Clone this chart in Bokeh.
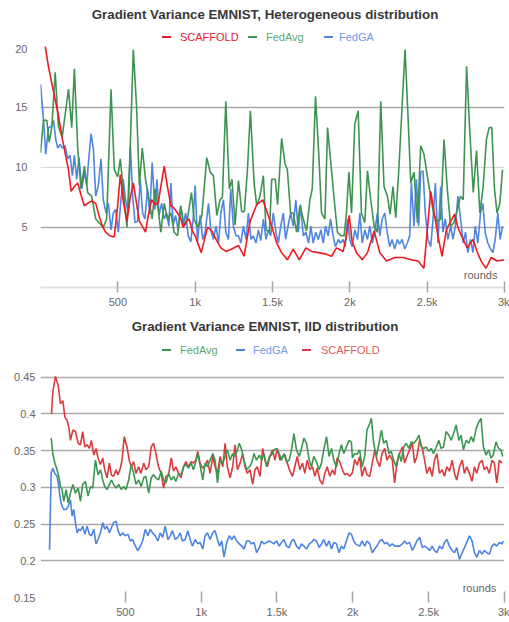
from bokeh.plotting import figure
from bokeh.models import Div, Label, FixedTicker, Grid, Range1d
from bokeh.layouts import column
from bokeh.embed import file_html
from bokeh.resources import INLINE

FONT = "Liberation Sans"

# ---------------- data ----------------
x_ticks = [500, 1000, 1500, 2000, 2500, 3000]
x_tick_labels = ["500", "1k", "1.5k", "2k", "2.5k", "3k"]
het_y_ticks = [5, 10, 15, 20]
iid_y_ticks = [0.15, 0.2, 0.25, 0.3, 0.35, 0.4, 0.45]
iid_y_labels = ["0.15", "0.2", "0.25", "0.3", "0.35", "0.4", "0.45"]

het_title = "Gradient Variance EMNIST, Heterogeneous distribution"
iid_title = "Gradient Variance EMNIST, IID distribution"
het_legend = ["SCAFFOLD", "FedAvg", "FedGA"]
iid_legend = ["FedAvg", "FedGA", "SCAFFOLD"]

het_fedavg_rounds = [0, 19, 41, 56, 73, 95, 116, 140, 181, 202, 219, 241, 262, 284, 305, 331, 357, 385, 406, 428,
                     456, 477, 499, 516, 537, 559, 581, 600, 621, 639, 658, 679, 701, 722, 740, 761, 778, 800, 821, 843,
                     864, 886, 907, 929, 950, 976, 993, 1015, 1043, 1075, 1097, 1118, 1140, 1161, 1176, 1198, 1221, 1238,
                     1258, 1280, 1301, 1318, 1338, 1357, 1381, 1398, 1419, 1441, 1458, 1480, 1495, 1518, 1533, 1559,
                     1581, 1596, 1617, 1634, 1656, 1677, 1699, 1720, 1742, 1757, 1778, 1800, 1817, 1839, 1856, 1877,
                     1899, 1920, 1942, 1963, 1978, 1994, 2011, 2032, 2054, 2075, 2097, 2114, 2135, 2157, 2178, 2200,
                     2221, 2243, 2260, 2279, 2297, 2318, 2338, 2357, 2376, 2394, 2415, 2437, 2458, 2479, 2501, 2523,
                     2544, 2565, 2587, 2609, 2630, 2652, 2673, 2695, 2716, 2733, 2755, 2776, 2798, 2819, 2841, 2862,
                     2883, 2901, 2918, 2935, 2952, 2970, 2987]
het_fedavg_values = [11.2, 13.9, 13.9, 12.1, 13.3, 17.9, 13.4, 12.5, 16.5, 13.3, 18.2, 11.5, 8.2, 10.1, 7.9, 7.6, 5.7, 5.3, 5.0, 5.7,
                     16.5, 9.8, 9.2, 10.7, 7.9, 5.0, 12.0, 19.8, 15.1, 8.5, 11.6, 9.0, 7.3, 5.7, 8.2, 6.5, 4.6, 7.0, 5.7, 6.2,
                     4.6, 4.3, 6.8, 5.1, 5.7, 7.9, 5.7, 5.0, 6.0, 10.8, 9.6, 9.3, 6.0, 7.3, 7.5, 15.5, 8.2, 9.0,
                     5.2, 8.9, 6.3, 6.3, 9.8, 14.7, 8.7, 6.8, 7.6, 9.3, 4.8, 4.6, 9.0, 9.0, 6.9, 12.4,
                     10.3, 9.8, 6.2, 6.2, 4.6, 6.8, 5.7, 4.7, 7.3, 8.2, 15.9, 10.9, 6.2, 5.7, 13.3, 10.4,
                     7.3, 4.6, 4.3, 4.3, 6.2, 9.6, 6.2, 13.6, 14.7, 6.2, 5.4, 9.7, 7.3, 5.1, 4.6, 15.5,
                     8.4, 7.6, 6.1, 8.4, 5.8, 10.1, 15.1, 19.8, 14.3, 8.7, 9.6, 5.4, 11.8, 11.1, 9.3, 7.5,
                     6.0, 5.5, 5.7, 12.3, 8.2, 5.1, 5.4, 6.5, 7.6, 7.3, 18.4, 12.9, 7.9, 11.4, 6.2, 8.4,
                     12.3, 13.3, 13.3, 8.2, 6.2, 7.0, 9.8]

het_fedga_rounds = [0, 19, 34, 51, 69, 84, 99, 112, 127, 142, 159, 176, 191, 206, 219, 234, 249, 267, 284, 299,
                    310, 327, 342, 357, 374, 391, 406, 424, 439, 456, 471, 486, 503, 520, 535, 550, 568, 581, 596, 611,
                    628, 645, 660, 675, 692, 707, 722, 740, 753, 766, 783, 800, 815, 830, 843, 858, 873, 890, 907, 923,
                    938, 955, 972, 987, 1000, 1015, 1032, 1049, 1065, 1086, 1101, 1118, 1135, 1151, 1166, 1183, 1198,
                    1215, 1230, 1247, 1264, 1280, 1295, 1312, 1329, 1344, 1361, 1376, 1393, 1409, 1424, 1441, 1458,
                    1473, 1488, 1505, 1522, 1538, 1553, 1570, 1585, 1602, 1617, 1634, 1651, 1667, 1681, 1699, 1716,
                    1733, 1748, 1763, 1780, 1796, 1813, 1828, 1843, 1860, 1875, 1892, 1907, 1925, 1940, 1957, 1970,
                    1985, 2000, 2015, 2032, 2050, 2065, 2080, 2097, 2114, 2129, 2146, 2161, 2178, 2194, 2209, 2226,
                    2241, 2258, 2273, 2290, 2307, 2322, 2338, 2355, 2372, 2387, 2398, 2415, 2430, 2445, 2458, 2473,
                    2488, 2505, 2523, 2538, 2553, 2570, 2587, 2602, 2617, 2634, 2652, 2667, 2682, 2699, 2716, 2733,
                    2748, 2763, 2780, 2796, 2811, 2828, 2845, 2860, 2875, 2892, 2910, 2925, 2940, 2957, 2972, 2987]
het_fedga_values = [16.9, 14.0, 11.1, 13.3, 13.4, 13.9, 12.3, 11.6, 11.9, 11.6, 11.8, 10.7, 11.0, 9.3, 11.0, 9.0, 10.8, 8.2, 9.6, 8.5,
                    10.4, 12.8, 11.5, 7.6, 8.5, 10.7, 7.3, 6.2, 7.0, 4.8, 6.2, 6.5, 4.6, 7.3, 9.0, 7.3, 6.2, 11.8, 7.6, 5.4,
                    5.5, 9.0, 6.2, 5.7, 8.2, 6.1, 10.4, 6.5, 9.0, 6.0, 7.0, 5.7, 6.2, 5.1, 8.7, 5.2, 6.0, 4.8, 6.8, 5.1,
                    6.2, 4.3, 3.8, 5.7, 8.5, 3.8, 6.0, 4.0, 4.6, 7.0, 4.8, 4.0, 5.1, 3.7, 6.2, 7.3, 4.6,
                    4.0, 8.2, 5.1, 4.3, 4.3, 3.7, 5.1, 4.0, 6.2, 4.0, 4.3, 3.7, 4.8, 3.9, 5.7, 4.0,
                    4.8, 4.3, 6.2, 4.6, 3.7, 5.1, 6.2, 4.0, 5.2, 6.2, 5.1, 7.3, 4.6, 6.9, 4.3, 4.6,
                    3.7, 5.1, 3.7, 4.6, 4.0, 4.8, 3.7, 5.1, 4.3, 5.7, 4.3, 3.4, 4.0, 3.7, 4.0, 3.4,
                    5.7, 4.0, 3.4, 4.8, 4.0, 6.2, 3.7, 4.8, 4.0, 5.1, 3.7, 4.6, 6.2, 4.3, 5.7, 6.2,
                    4.6, 3.4, 4.0, 3.2, 4.0, 3.6, 4.0, 3.2, 3.7, 4.3, 8.7, 5.1, 9.0, 5.1, 9.6, 9.7,
                    6.2, 4.0, 3.4, 5.7, 8.7, 3.7, 8.4, 4.6, 5.7, 4.0, 5.1, 4.0, 5.1, 7.6, 5.7, 3.7,
                    4.6, 2.9, 4.0, 2.9, 5.1, 3.7, 6.2, 7.0, 4.6, 3.7, 3.2, 2.9, 4.0, 6.2, 4.0, 5.1]

het_scaffold_rounds = [0, 34, 51, 73, 95, 116, 138, 159, 181, 198, 219, 241, 262, 284, 305, 331, 357, 378, 400, 421,
                       449, 477, 499, 516, 537, 559, 578, 600, 621, 639, 658, 679, 697, 718, 740, 761, 778, 800, 821,
                       843, 864, 886, 907, 922, 944, 961, 982, 1000, 1039, 1080, 1108, 1135, 1166, 1200, 1237, 1280,
                       1316, 1355, 1398, 1437, 1467, 1495, 1527, 1559, 1596, 1634, 1673, 1716, 1753, 1796, 1839, 1882,
                       1914, 1957, 1978, 1996, 2015, 2043, 2080, 2114, 2157, 2194, 2237, 2290, 2344, 2398, 2441, 2479,
                       2501, 2523, 2548, 2574, 2596, 2624, 2652, 2677, 2699, 2725, 2759, 2796, 2828, 2853, 2881, 2914,
                       2952, 2996]
het_scaffold_values = [23.0, 19.8, 18.4, 17.0, 15.6, 14.3, 12.6, 11.2, 9.8, 8.0, 8.4, 8.7, 7.7, 6.8, 7.0, 7.2, 7.0, 6.0, 5.1, 4.6,
                       4.3, 4.2, 6.8, 9.4, 7.0, 5.5, 7.3, 8.7, 7.0, 5.5, 5.1, 4.6, 6.0, 7.3, 6.9, 7.0, 8.4, 10.1, 8.4,
                       6.8, 6.6, 6.2, 5.7, 5.0, 5.5, 5.7, 4.7, 4.3, 2.9, 5.0, 4.7, 4.0, 3.3, 3.0, 3.2, 3.5,
                       2.6, 5.5, 6.9, 7.3, 6.2, 5.1, 3.7, 2.9, 2.3, 3.2, 2.3, 3.3, 3.0, 2.9, 2.8, 2.6,
                       3.3, 3.0, 4.3, 6.0, 3.8, 2.9, 2.3, 2.9, 4.7, 2.9, 2.2, 2.5, 2.5, 2.3, 2.2, 1.6,
                       4.8, 8.0, 6.0, 4.0, 2.6, 4.8, 5.5, 6.1, 5.0, 4.2, 3.3, 4.0, 2.8, 2.1, 1.6, 2.5,
                       2.2, 2.3]

iid_fedavg_rounds = [11, 22, 35, 50, 61, 72, 83, 94, 110, 123, 138, 154, 171, 189, 204, 219, 237, 254, 270, 285,
                     303, 320, 336, 351, 364, 379, 395, 408, 423, 439, 456, 474, 489, 504, 522, 539, 555, 570, 588, 605,
                     621, 636, 654, 671, 686, 702, 719, 737, 752, 768, 785, 803, 818, 833, 851, 868, 884, 899, 917, 934,
                     949, 965, 978, 993, 1011, 1026, 1042, 1059, 1077, 1092, 1108, 1125, 1143, 1158, 1173, 1191, 1208,
                     1224, 1239, 1252, 1268, 1283, 1300, 1318, 1333, 1349, 1366, 1384, 1399, 1415, 1432, 1450, 1465,
                     1480, 1498, 1515, 1530, 1546, 1563, 1581, 1596, 1612, 1629, 1647, 1662, 1678, 1695, 1713, 1728,
                     1743, 1761, 1778, 1794, 1809, 1827, 1844, 1860, 1875, 1893, 1910, 1925, 1941, 1958, 1976, 1991,
                     1998, 2013, 2029, 2046, 2061, 2079, 2094, 2112, 2123, 2138, 2156, 2173, 2189, 2204, 2222, 2239,
                     2254, 2270, 2287, 2305, 2320, 2336, 2353, 2371, 2386, 2402, 2419, 2437, 2452, 2467, 2485, 2502,
                     2518, 2533, 2551, 2568, 2583, 2599, 2616, 2634, 2649, 2665, 2682, 2700, 2715, 2730, 2748, 2765,
                     2781, 2796, 2814, 2831, 2846, 2862, 2879, 2897, 2912, 2927, 2945, 2962, 2978, 2989]
iid_fedavg_values = [0.367, 0.346, 0.333, 0.324, 0.315, 0.301, 0.297, 0.281, 0.297, 0.279, 0.292, 0.304, 0.292, 0.299, 0.281, 0.304, 0.308, 0.288, 0.301, 0.299,
                     0.337, 0.317, 0.324, 0.310, 0.301, 0.297, 0.304, 0.310, 0.304, 0.299, 0.304, 0.297, 0.301, 0.297, 0.310, 0.331, 0.319, 0.304, 0.310, 0.301,
                     0.313, 0.315, 0.292, 0.313, 0.317, 0.313, 0.310, 0.322, 0.310, 0.306, 0.319, 0.310, 0.315, 0.308, 0.319, 0.317, 0.328, 0.331, 0.326, 0.333,
                     0.324, 0.335, 0.346, 0.330, 0.310, 0.333, 0.328, 0.337, 0.346, 0.337, 0.306, 0.337, 0.333, 0.342, 0.351, 0.337, 0.346,
                     0.342, 0.351, 0.360, 0.351, 0.337, 0.324, 0.328, 0.333, 0.346, 0.337, 0.344, 0.337, 0.346, 0.328, 0.342, 0.344,
                     0.351, 0.353, 0.346, 0.337, 0.346, 0.335, 0.337, 0.351, 0.373, 0.351, 0.342, 0.353, 0.367, 0.360, 0.337, 0.328,
                     0.342, 0.335, 0.324, 0.333, 0.351, 0.369, 0.342, 0.353, 0.337, 0.328, 0.346, 0.358, 0.346, 0.355, 0.364, 0.362,
                     0.340, 0.346, 0.345, 0.351, 0.328, 0.342, 0.378, 0.387, 0.394, 0.360, 0.342, 0.360, 0.378, 0.360, 0.364, 0.346,
                     0.349, 0.337, 0.328, 0.346, 0.335, 0.355, 0.360, 0.353, 0.362, 0.360, 0.364, 0.371, 0.355, 0.353, 0.355, 0.349,
                     0.353, 0.346, 0.355, 0.364, 0.353, 0.355, 0.376, 0.371, 0.364, 0.373, 0.385, 0.364, 0.371, 0.351, 0.364, 0.360,
                     0.369, 0.362, 0.380, 0.389, 0.394, 0.355, 0.344, 0.351, 0.340, 0.344, 0.362, 0.353, 0.351, 0.342]

iid_scaffold_rounds = [13, 22, 39, 57, 72, 88, 101, 116, 127, 138, 154, 171, 189, 204, 219, 233, 248, 263, 276, 292,
                       307, 320, 336, 351, 364, 379, 395, 408, 423, 439, 452, 467, 478, 493, 511, 526, 539, 555, 570, 588,
                       603, 621, 636, 654, 671, 686, 702, 719, 737, 752, 768, 785, 803, 818, 833, 851, 868, 884, 899, 917,
                       934, 949, 965, 978, 993, 1009, 1026, 1042, 1059, 1077, 1092, 1108, 1125, 1143, 1158, 1173, 1191,
                       1208, 1224, 1239, 1257, 1274, 1289, 1305, 1322, 1340, 1355, 1370, 1388, 1406, 1421, 1436, 1454,
                       1471, 1487, 1502, 1520, 1537, 1553, 1568, 1586, 1603, 1618, 1634, 1651, 1669, 1684, 1700, 1717,
                       1735, 1750, 1765, 1783, 1800, 1816, 1831, 1849, 1866, 1881, 1897, 1914, 1932, 1947, 1962, 1980,
                       1998, 2013, 2029, 2046, 2061, 2079, 2094, 2112, 2129, 2145, 2160, 2178, 2193, 2211, 2226, 2243,
                       2261, 2276, 2292, 2309, 2327, 2342, 2357, 2375, 2393, 2408, 2423, 2441, 2459, 2474, 2489, 2507,
                       2524, 2539, 2555, 2572, 2590, 2605, 2621, 2638, 2656, 2671, 2686, 2704, 2722, 2737, 2752, 2770,
                       2787, 2803, 2818, 2836, 2853, 2868, 2884, 2901, 2919, 2934, 2950, 2967, 2985]
iid_scaffold_values = [0.400, 0.430, 0.451, 0.439, 0.414, 0.418, 0.396, 0.391, 0.382, 0.364, 0.378, 0.376, 0.360, 0.358, 0.376, 0.355, 0.358, 0.353, 0.364, 0.344,
                       0.353, 0.340, 0.331, 0.340, 0.324, 0.313, 0.333, 0.317, 0.315, 0.324, 0.317, 0.326, 0.337, 0.369, 0.355, 0.337, 0.328, 0.335, 0.319, 0.328,
                       0.319, 0.333, 0.324, 0.328, 0.355, 0.360, 0.346, 0.328, 0.319, 0.299, 0.315, 0.317, 0.340, 0.322, 0.328, 0.319, 0.313, 0.328, 0.335, 0.328,
                       0.335, 0.333, 0.337, 0.349, 0.333, 0.326, 0.330, 0.337, 0.319, 0.342, 0.328, 0.319, 0.342, 0.328, 0.360, 0.328, 0.313,
                       0.328, 0.358, 0.324, 0.333, 0.346, 0.328, 0.319, 0.324, 0.304, 0.324, 0.328, 0.315, 0.353, 0.337, 0.328, 0.342,
                       0.351, 0.337, 0.353, 0.337, 0.342, 0.344, 0.333, 0.322, 0.315, 0.328, 0.342, 0.324, 0.333, 0.319, 0.337, 0.324,
                       0.328, 0.315, 0.326, 0.310, 0.304, 0.319, 0.328, 0.315, 0.324, 0.317, 0.340, 0.335, 0.324, 0.317, 0.319, 0.315,
                       0.320, 0.338, 0.330, 0.342, 0.315, 0.328, 0.317, 0.315, 0.333, 0.351, 0.337, 0.328, 0.346, 0.353, 0.337, 0.344,
                       0.337, 0.306, 0.333, 0.346, 0.355, 0.333, 0.342, 0.351, 0.360, 0.333, 0.342, 0.364, 0.353, 0.337, 0.319, 0.328,
                       0.315, 0.337, 0.346, 0.319, 0.324, 0.315, 0.328, 0.322, 0.337, 0.319, 0.310, 0.328, 0.337, 0.319, 0.328, 0.319,
                       0.308, 0.328, 0.319, 0.333, 0.337, 0.324, 0.328, 0.319, 0.337, 0.333, 0.306, 0.337, 0.333]

iid_fedga_rounds = [0, 11, 22, 35, 50, 61, 72, 83, 94, 110, 123, 138, 149, 160, 171, 182, 193, 204, 219, 233,
                    248, 263, 276, 292, 307, 320, 336, 351, 364, 379, 395, 408, 423, 439, 452, 467, 482, 500, 518, 533,
                    548, 566, 583, 599, 614, 632, 649, 664, 680, 697, 715, 730, 746, 763, 781, 796, 811, 829, 846, 862,
                    877, 895, 912, 928, 943, 961, 978, 993, 1011, 1026, 1042, 1059, 1077, 1092, 1108, 1121, 1136, 1151,
                    1169, 1186, 1202, 1217, 1235, 1252, 1268, 1283, 1300, 1318, 1333, 1349, 1366, 1384, 1399, 1415,
                    1432, 1450, 1465, 1480, 1498, 1515, 1530, 1546, 1563, 1581, 1596, 1612, 1629, 1647, 1662, 1678,
                    1695, 1713, 1728, 1743, 1761, 1778, 1794, 1809, 1827, 1844, 1860, 1875, 1893, 1910, 1925, 1941,
                    1958, 1976, 1991, 2007, 2024, 2046, 2061, 2079, 2094, 2112, 2129, 2145, 2160, 2178, 2193, 2211,
                    2226, 2243, 2261, 2276, 2292, 2309, 2327, 2342, 2357, 2375, 2393, 2408, 2423, 2441, 2459, 2474,
                    2489, 2507, 2524, 2539, 2555, 2572, 2590, 2605, 2621, 2638, 2656, 2671, 2686, 2704, 2722, 2737,
                    2752, 2770, 2787, 2803, 2818, 2836, 2853, 2868, 2884, 2901, 2919, 2934, 2950, 2967, 2985, 2993]
iid_fedga_values = [0.215, 0.320, 0.326, 0.319, 0.315, 0.301, 0.283, 0.274, 0.270, 0.270, 0.274, 0.283, 0.261, 0.270, 0.252, 0.238, 0.243, 0.241, 0.247, 0.236,
                    0.247, 0.236, 0.234, 0.243, 0.223, 0.229, 0.238, 0.252, 0.243, 0.247, 0.238, 0.245, 0.252, 0.254, 0.241, 0.234, 0.238, 0.234, 0.236, 0.227,
                    0.229, 0.220, 0.214, 0.220, 0.227, 0.243, 0.234, 0.243, 0.238, 0.234, 0.227, 0.238, 0.232, 0.247, 0.229, 0.234, 0.241, 0.229, 0.232, 0.238,
                    0.227, 0.229, 0.241, 0.229, 0.220, 0.229, 0.223, 0.225, 0.216, 0.234, 0.238, 0.229, 0.238, 0.241, 0.229, 0.220, 0.227, 0.205,
                    0.225, 0.234, 0.229, 0.234, 0.227, 0.223, 0.220, 0.216, 0.227, 0.227, 0.223, 0.225, 0.211, 0.218, 0.227, 0.223,
                    0.225, 0.227, 0.225, 0.223, 0.227, 0.220, 0.225, 0.229, 0.220, 0.218, 0.227, 0.229, 0.220, 0.216, 0.223, 0.220,
                    0.216, 0.223, 0.225, 0.229, 0.227, 0.218, 0.223, 0.229, 0.220, 0.227, 0.216, 0.225, 0.223, 0.211, 0.220, 0.216,
                    0.227, 0.238, 0.236, 0.227, 0.222, 0.220, 0.227, 0.220, 0.227, 0.223, 0.211, 0.216, 0.220, 0.227, 0.229, 0.223,
                    0.225, 0.220, 0.223, 0.220, 0.220, 0.220, 0.223, 0.227, 0.223, 0.225, 0.214, 0.220, 0.227, 0.232, 0.218, 0.220,
                    0.218, 0.214, 0.220, 0.214, 0.211, 0.220, 0.216, 0.225, 0.229, 0.220, 0.214, 0.211, 0.218, 0.202, 0.211, 0.218,
                    0.225, 0.234, 0.227, 0.211, 0.205, 0.214, 0.209, 0.214, 0.211, 0.209, 0.220, 0.223, 0.220, 0.225, 0.223, 0.227]

# ---------------- styling ----------------
HET_COLORS = {"SCAFFOLD": "#ee1b22", "FedAvg": "#3f9352", "FedGA": "#5086df"}
HET_TEXT = {"SCAFFOLD": "#e8202a", "FedAvg": "#5aaa6e", "FedGA": "#6b9ceb"}
IID_COLORS = {"SCAFFOLD": "#dc3a3d", "FedAvg": "#3c9650", "FedGA": "#4c84e0"}
IID_TEXT = {"SCAFFOLD": "#e05a5e", "FedAvg": "#5aaa6e", "FedGA": "#6b9ceb"}
W = 509


def header(title, names, dash_xs, label_xs, dash_colors, text_colors, height, title_top, legend_mid):
    parts = [f'<div style="position:relative;width:{W}px;height:{height}px;'
             f'font-family:\'{FONT}\',Arial,sans-serif;">']
    parts.append(f'<div style="position:absolute;left:21px;top:{title_top}px;width:488px;text-align:center;'
                 f'font-size:13.3px;line-height:16px;font-weight:bold;color:#383838;white-space:nowrap;">{title}</div>')
    for name, dx, lx in zip(names, dash_xs, label_xs):
        parts.append(f'<div style="position:absolute;left:{dx}px;top:{legend_mid - 1}px;width:9px;height:2px;'
                     f'background:{dash_colors[name]};"></div>')
        parts.append(f'<div style="position:absolute;left:{lx}px;top:{legend_mid - 7}px;font-size:11px;'
                     f'line-height:14px;color:{text_colors[name]};white-space:nowrap;">{name}</div>')
    parts.append('</div>')
    return Div(text="".join(parts), width=W, height=height, margin=(0, 0, 0, 0))


def base_fig(height, x0, x1, y0, y1, bt, bb, y_ticks, y_labels, standoff, axis_line):
    p = figure(width=W, height=height, x_range=Range1d(x0, x1), y_range=Range1d(y0, y1),
               output_backend="svg", toolbar_location=None,
               min_border_left=40, min_border_right=5, min_border_top=bt, min_border_bottom=bb)
    p.outline_line_color = None
    p.background_fill_color = "white"
    p.border_fill_color = "white"
    p.xgrid.visible = False
    xa = p.xaxis[0]
    xa.ticker = FixedTicker(ticks=x_ticks)
    xa.major_label_overrides = dict(zip(x_ticks, x_tick_labels))
    xa.axis_line_color = axis_line
    xa.axis_line_width = 2
    xa.major_tick_line_color = "#a6a6a6"
    xa.major_tick_line_width = 1.5
    xa.major_tick_in = 6
    xa.major_tick_out = 5
    xa.minor_tick_line_color = None
    xa.major_label_standoff = 3
    xa.major_label_text_font = FONT
    xa.major_label_text_font_size = "11px"
    xa.major_label_text_color = "#666666"
    ya = p.yaxis[0]
    ya.ticker = FixedTicker(ticks=y_ticks)
    ya.major_label_overrides = dict(zip(y_ticks, y_labels))
    ya.axis_line_color = None
    ya.major_tick_line_color = None
    ya.minor_tick_line_color = None
    ya.major_tick_out = 0
    ya.major_tick_in = 0
    ya.major_label_standoff = standoff
    ya.major_label_text_font = FONT
    ya.major_label_text_font_size = "11px"
    ya.major_label_text_color = "#666666"
    return p


# ---------------- top chart ----------------
h1 = header(het_title, het_legend, [162, 248, 324], [180, 266, 339], HET_COLORS, HET_TEXT, 44, 7, 37)
p1 = base_fig(266, 0, 3000, 0, 20.05, 2, 22, het_y_ticks, [str(t) for t in het_y_ticks], 13, "#e3e3e3")
p1.ygrid.ticker = FixedTicker(ticks=[5, 15])
p1.ygrid.grid_line_color = "#a8a8a8"
p1.ygrid.grid_line_width = 1.6
g10 = Grid(dimension=1, ticker=FixedTicker(ticks=[10]), grid_line_color="#d6d6d6", grid_line_width=1)
p1.add_layout(g10)
p1.line(het_fedga_rounds, het_fedga_values, line_color=HET_COLORS["FedGA"], line_width=1.6)
p1.line(het_fedavg_rounds, het_fedavg_values, line_color=HET_COLORS["FedAvg"], line_width=1.6)
p1.line(het_scaffold_rounds, het_scaffold_values, line_color=HET_COLORS["SCAFFOLD"], line_width=1.6)
p1.add_layout(Label(x=2954, y=1.0, text="rounds", text_align="right", text_baseline="middle",
                    text_font=FONT, text_font_size="11px", text_color="#666666"))

# ---------------- bottom chart ----------------
h2 = header(iid_title, iid_legend, [162, 236, 302], [180, 253, 321], IID_COLORS, IID_TEXT, 48, 9, 40)
p2 = base_fig(262, -59.5, 3001, 0.15, 0.47, 4, 22, iid_y_ticks, iid_y_labels, 5, None)
p2.ygrid.ticker = FixedTicker(ticks=iid_y_ticks[1:])
p2.ygrid.grid_line_color = "#aaaaaa"
p2.ygrid.grid_line_width = 1.6
p2.line(iid_fedga_rounds, iid_fedga_values, line_color=IID_COLORS["FedGA"], line_width=1.6)
p2.line(iid_scaffold_rounds, iid_scaffold_values, line_color=IID_COLORS["SCAFFOLD"], line_width=1.6)
p2.line(iid_fedavg_rounds, iid_fedavg_values, line_color=IID_COLORS["FedAvg"], line_width=1.6)
p2.add_layout(Label(x=2947, y=0.1635, text="rounds", text_align="right", text_baseline="middle",
                    text_font=FONT, text_font_size="11px", text_color="#666666"))

layout = column(h1, p1, h2, p2, spacing=0)
open("out.html", "w").write(file_html(layout, INLINE))
